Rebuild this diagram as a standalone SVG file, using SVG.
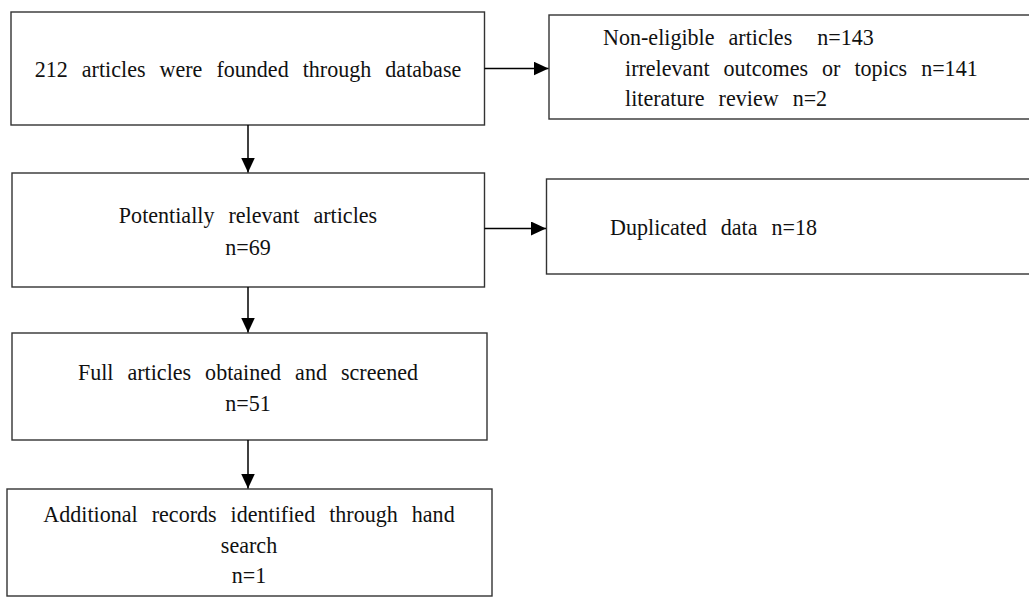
<svg xmlns="http://www.w3.org/2000/svg" width="1029" height="597" viewBox="0 0 1029 597">
<style>
.box{fill:#fff;stroke:#333;stroke-width:1.4}
.t{font-family:"Liberation Serif","Times New Roman",serif;font-size:24px;fill:#111;word-spacing:9.2px}
.c{text-anchor:middle}
.conn{stroke:#000;stroke-width:1.5;fill:none}
</style>
<defs>
<marker id="ah" markerUnits="userSpaceOnUse" markerWidth="17" markerHeight="15" refX="15" refY="7" orient="auto" viewBox="0 0 17 15">
<path d="M0,0 L15,7 L0,14 Z" fill="#000"/>
</marker>
</defs>
<rect width="1029" height="597" fill="#fff"/>
<g id="n1">
<rect class="box" x="11" y="12" width="473.5" height="113"/>
<text class="t c" transform="translate(248 77) scale(0.92 1)">212 articles were founded through database</text>
</g>
<g id="n2">
<rect class="box" x="549" y="15" width="500" height="104"/>
<text class="t" transform="translate(603 45) scale(0.92 1)">Non-eligible articles<tspan dx="12"> n=143</tspan></text>
<text class="t" transform="translate(625 76) scale(0.92 1)">irrelevant outcomes or topics n=141</text>
<text class="t" transform="translate(625 106) scale(0.92 1)">literature review n=2</text>
</g>
<g id="n3">
<rect class="box" x="12" y="173" width="472.5" height="114"/>
<text class="t c" transform="translate(248 223) scale(0.92 1)">Potentially relevant articles</text>
<text class="t c" transform="translate(248 255) scale(0.92 1)">n=69</text>
</g>
<g id="n4">
<rect class="box" x="546.5" y="179" width="500" height="95"/>
<text class="t" transform="translate(610 235) scale(0.92 1)">Duplicated data n=18</text>
</g>
<g id="n5">
<rect class="box" x="12" y="333" width="475" height="107"/>
<text class="t c" transform="translate(248 380) scale(0.92 1)">Full articles obtained and screened</text>
<text class="t c" transform="translate(248 411) scale(0.92 1)">n=51</text>
</g>
<g id="n6">
<rect class="box" x="7" y="489" width="485" height="107"/>
<text class="t c" transform="translate(249 522) scale(0.92 1)">Additional records identified through hand</text>
<text class="t c" transform="translate(249 553) scale(0.92 1)">search</text>
<text class="t c" transform="translate(249 583) scale(0.92 1)">n=1</text>
</g>
<g id="connectors">
<line class="conn" x1="248" y1="125" x2="248" y2="172.5" marker-end="url(#ah)"/>
<line class="conn" x1="248" y1="287" x2="248" y2="332.5" marker-end="url(#ah)"/>
<line class="conn" x1="248" y1="440" x2="248" y2="488.5" marker-end="url(#ah)"/>
<line class="conn" x1="484.5" y1="68.5" x2="548.5" y2="68.5" marker-end="url(#ah)"/>
<line class="conn" x1="484.5" y1="228.5" x2="546" y2="228.5" marker-end="url(#ah)"/>
</g>
</svg>
